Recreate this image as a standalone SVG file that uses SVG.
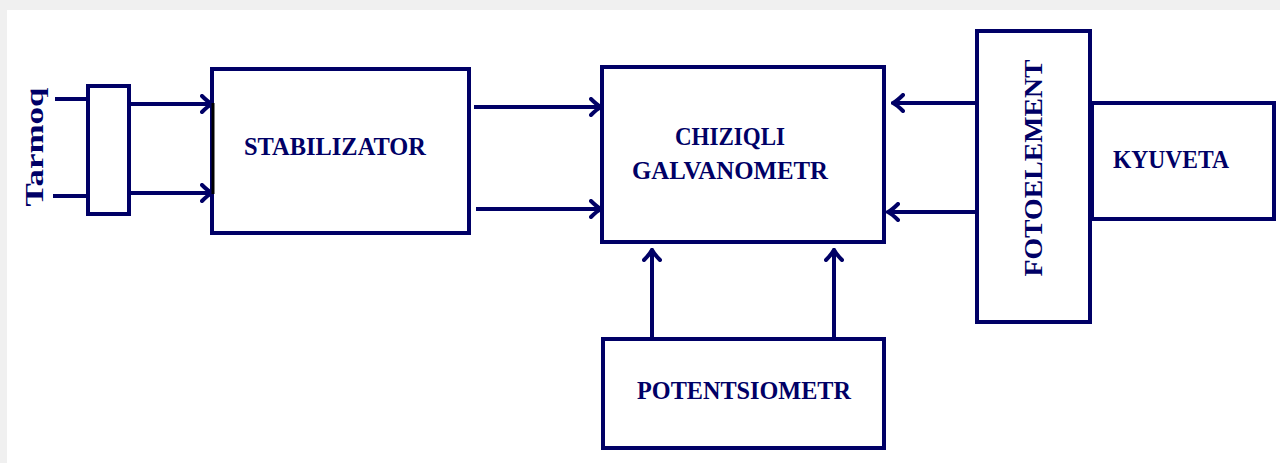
<svg xmlns="http://www.w3.org/2000/svg" width="1280" height="463" viewBox="0 0 1280 463">
<style>
.box{fill:#fff;stroke:#000066;stroke-width:4}
.ln{fill:none;stroke:#000066;stroke-width:4}
.lbl{font-family:"Liberation Serif","Times New Roman",serif;font-weight:bold;font-size:26px;fill:#000066}
</style>
<defs>
<marker id="ah" markerUnits="userSpaceOnUse" viewBox="0 0 14 20" refX="12" refY="10" markerWidth="14" markerHeight="20" orient="auto">
<path d="M2,2 Q8,8 12,10 Q8,12 2,18" fill="none" stroke="#000066" stroke-width="4" stroke-linecap="round"/>
</marker>
</defs>
<rect x="0" y="0" width="1280" height="463" fill="#f0f0f0"/>
<rect x="7" y="10" width="1273" height="453" fill="#fff"/>
<g id="connectors">
<path class="ln" d="M55,99 H88"/>
<path class="ln" d="M53,196 H88"/>
<path class="ln" d="M130,104 H212" marker-end="url(#ah)"/>
<path class="ln" d="M130,193 H212" marker-end="url(#ah)"/>
<path class="ln" d="M474,107 H601" marker-end="url(#ah)"/>
<path class="ln" d="M476,209 H601" marker-end="url(#ah)"/>
<path class="ln" d="M975,103 H893" marker-end="url(#ah)"/>
<path class="ln" d="M975,212 H888" marker-end="url(#ah)"/>
<path class="ln" d="M652,337 V250" marker-end="url(#ah)"/>
<path class="ln" d="M834,337 V250" marker-end="url(#ah)"/>
</g>
<g id="tarmoq">
<text class="lbl" transform="translate(43,147) rotate(-90)" text-anchor="middle" textLength="119" lengthAdjust="spacingAndGlyphs">Tarmoq</text>
</g>
<g id="switch">
<rect class="box" x="88" y="86" width="41" height="128"/>
</g>
<g id="stabilizator">
<rect class="box" x="212" y="69" width="257" height="164"/>
<path d="M213,103 V194" stroke="#000" stroke-width="3"/>
<text class="lbl" x="335" y="155" text-anchor="middle" textLength="182" lengthAdjust="spacingAndGlyphs">STABILIZATOR</text>
</g>
<g id="galvanometr">
<rect class="box" x="602" y="67" width="282" height="175"/>
<text class="lbl" x="730" y="145" text-anchor="middle" textLength="110" lengthAdjust="spacingAndGlyphs">CHIZIQLI</text>
<text class="lbl" x="730" y="179" text-anchor="middle" textLength="196" lengthAdjust="spacingAndGlyphs">GALVANOMETR</text>
</g>
<g id="fotoelement">
<rect class="box" x="977" y="31" width="113" height="291"/>
<text class="lbl" transform="translate(1042,168) rotate(-90)" text-anchor="middle" textLength="217" lengthAdjust="spacingAndGlyphs">FOTOELEMENT</text>
</g>
<g id="kyuveta">
<rect class="box" x="1092" y="103" width="182" height="116"/>
<text class="lbl" x="1171" y="168" text-anchor="middle" textLength="116" lengthAdjust="spacingAndGlyphs">KYUVETA</text>
</g>
<g id="potentsiometr">
<rect class="box" x="603" y="339" width="281" height="109"/>
<text class="lbl" x="744" y="399" text-anchor="middle" textLength="214" lengthAdjust="spacingAndGlyphs">POTENTSIOMETR</text>
</g>
</svg>
